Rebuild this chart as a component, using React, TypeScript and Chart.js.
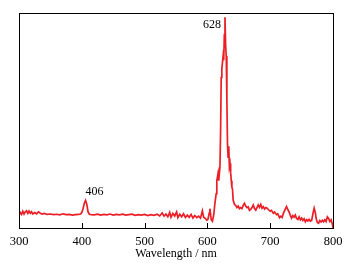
import React, { useEffect, useRef } from "react";
import { Chart, registerables } from "chart.js";

Chart.register(...registerables);

const wavelengths: number[] = [
  300, 302, 304, 306, 308, 310, 312, 314, 316, 318, 320, 322, 325, 328, 331, 334, 337, 340, 345, 350,
  355, 360, 365, 370, 375, 380, 385, 390, 395, 398, 400, 402, 404, 406, 408, 410, 412, 415,
  420, 425, 430, 435, 440, 445, 450, 455, 460, 465, 470, 475, 480, 485, 490, 495, 500, 505, 510, 515,
  520, 524, 528, 531, 534, 537, 540, 542, 545, 548, 551, 553, 556, 559, 562, 565, 568, 571, 574, 577,
  580, 583, 586, 589, 592, 594, 597, 599, 601, 603, 604, 606, 608, 610, 612, 614, 615, 617, 618, 620,
  621, 622, 623, 625, 626, 627, 628, 629, 630, 631, 632, 633, 634, 635, 636, 637, 638, 639, 640, 641,
  643, 645, 647, 649, 651, 653, 655, 657, 659, 661, 663, 665, 667, 669, 671, 673, 675, 677, 679, 681,
  683, 685, 687, 689, 691, 693, 695, 697, 700, 702, 705, 707, 710, 712, 715, 717, 719, 721, 724, 726,
  728, 730, 732, 734, 736, 738, 740, 742, 744, 746, 748, 750, 752, 754, 756, 758, 760, 762, 764, 766,
  768, 770, 772, 773, 775, 777, 779, 781, 783, 785, 787, 789, 791, 793, 795, 797, 799, 800,
];

const intensities: number[] = [
  6.0, 7.2, 6.3, 7.8, 6.5, 7.5, 8.0, 6.8, 7.9, 6.9, 7.6, 6.5, 7.2, 6.6, 7.5, 6.9, 6.5, 6.8, 6.3, 6.5,
  6.2, 6.4, 6.1, 6.6, 6.2, 6.3, 6.0, 6.2, 6.3, 6.5, 7.2, 9.0, 11.5, 12.8, 11.0, 7.5, 6.4, 6.2,
  6.1, 6.4, 6.0, 6.3, 6.1, 6.5, 6.0, 6.3, 6.1, 6.4, 6.0, 6.2, 6.4, 5.9, 6.2, 6.0, 6.3, 5.8, 6.2, 5.9,
  6.4, 5.6, 7.0, 5.5, 6.5, 5.2, 7.3, 5.0, 6.8, 5.6, 7.5, 4.8, 6.4, 5.2, 6.6, 4.9, 6.0, 5.0, 6.3, 4.6,
  5.8, 4.8, 5.5, 4.6, 8.0, 5.0, 4.4, 3.6, 4.2, 7.0, 9.0, 4.0, 3.2, 6.0, 11.5, 16.0, 22.0, 25.5, 22.0, 28.5,
  45.0, 70.0, 74.0, 80.0, 78.0, 90.0, 98.0, 85.0, 80.0, 60.0, 39.0, 33.0, 38.0, 28.5, 30.0, 26.0, 22.0, 19.0, 18.0, 13.0,
  11.0, 10.5, 9.5, 10.2, 9.0, 9.5, 9.0, 10.5, 11.5, 10.2, 9.5, 9.8, 8.2, 8.6, 9.5, 10.7, 9.0, 8.3, 9.5, 10.7,
  9.6, 11.0, 9.2, 9.9, 8.8, 9.5, 9.2, 8.6, 7.8, 8.2, 6.9, 7.4, 6.2, 6.6, 4.8, 5.5, 4.9, 6.8, 8.8, 10.0,
  8.6, 7.5, 6.0, 4.6, 5.8, 5.0, 6.0, 4.4, 4.0, 5.2, 3.8, 4.6, 3.5, 4.3, 2.9, 3.9, 3.3, 4.0, 3.2, 3.5,
  6.5, 9.2, 7.0, 4.6, 2.6, 2.2, 3.5, 2.8, 3.6, 2.9, 3.8, 3.0, 5.2, 4.4, 3.0, 3.8, 1.8, 0,
];

const xTicks: number[] = [300, 400, 500, 600, 700, 800];
const innerTicks: number[] = [400, 500, 600, 700];
const peakLabels: string[] = ["628", "406"];
const peakX: number[] = [628, 406];
const peakY: number[] = [97, 12.8];

const FONT = "'Liberation Serif', 'Times New Roman', serif";

const framePlugin = {
  id: "frame",
  afterDatasetsDraw(chart: any) {
    const { ctx, chartArea } = chart;
    const xs = chart.scales.x;
    const ys = chart.scales.y;
    ctx.save();
    ctx.strokeStyle = "#000";
    ctx.lineWidth = 1;
    ctx.strokeRect(
      Math.round(chartArea.left) + 0.5,
      Math.round(chartArea.top) + 0.5,
      Math.round(chartArea.right - chartArea.left),
      Math.round(chartArea.bottom - chartArea.top)
    );
    ctx.beginPath();
    innerTicks.forEach((v) => {
      const px = Math.round(xs.getPixelForValue(v)) + 0.5;
      ctx.moveTo(px, chartArea.bottom);
      ctx.lineTo(px, chartArea.bottom - 5);
    });
    ctx.stroke();
    ctx.fillStyle = "#000";
    ctx.font = `12px ${FONT}`;
    ctx.textBaseline = "middle";
    {
      const px = xs.getPixelForValue(peakX[0]);
      const py = ys.getPixelForValue(peakY[0]);
      ctx.textAlign = "right";
      ctx.fillText(peakLabels[0], px - 4, py + 5);
    }
    {
      const px = xs.getPixelForValue(peakX[1]);
      const py = ys.getPixelForValue(peakY[1]);
      ctx.textAlign = "left";
      ctx.fillText(peakLabels[1], px + 0, py - 9);
    }
    ctx.restore();
  },
};

export default function App() {
  const ref = useRef<HTMLCanvasElement | null>(null);
  useEffect(() => {
    if (!ref.current) return;
    const chart = new Chart(ref.current, {
      type: "line",
      data: {
        labels: wavelengths,
        datasets: [
          {
            data: wavelengths.map((w, i) => ({ x: w, y: intensities[i] })),
            borderColor: "rgb(235, 30, 38)",
            borderWidth: 1.7,
            pointRadius: 0,
            fill: false,
            tension: 0,
          },
        ],
      },
      options: {
        animation: false,
        responsive: true,
        maintainAspectRatio: false,
        layout: { padding: { top: 13, right: 25, left: 0, bottom: 0 } },
        plugins: { legend: { display: false }, tooltip: { enabled: false } },
        scales: {
          x: {
            type: "linear",
            min: 300,
            max: 800,
            afterBuildTicks: (scale: any) => {
              scale.ticks = xTicks.map((v) => ({ value: v }));
            },
            afterFit: (scale: any) => {
              scale.height = 39;
            },
            grid: { display: false, drawTicks: false },
            border: { display: false },
            ticks: {
              color: "#000",
              font: { family: FONT, size: 12.5 },
              padding: 6,
              maxRotation: 0,
              autoSkip: false,
            },
            title: {
              display: true,
              text: "Wavelength / nm",
              color: "#000",
              font: { family: FONT, size: 12 },
              padding: { top: 0, bottom: 6 },
            },
          },
          y: {
            min: 0,
            max: 100,
            afterFit: (scale: any) => {
              scale.width = 19;
            },
            grid: { display: false, drawTicks: false },
            border: { display: false },
            ticks: { display: false },
          },
        },
      },
      plugins: [framePlugin],
    });
    return () => chart.destroy();
  }, []);
  return (
    <div style={{ position: "fixed", left: 0, top: 0, width: 358, height: 267, background: "#fff" }}>
      <canvas ref={ref} />
    </div>
  );
}
